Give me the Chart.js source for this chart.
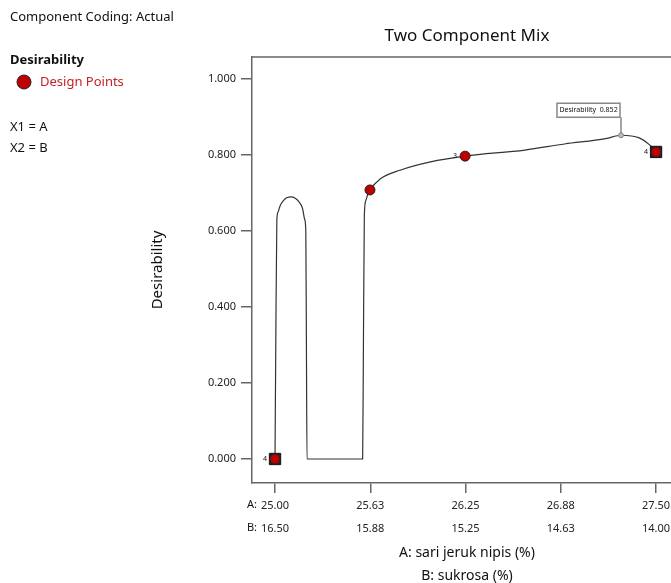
<!DOCTYPE html>
<html>
<head>
<meta charset="utf-8">
<script src="https://cdn.jsdelivr.net/npm/chart.js@4.4.0/dist/chart.umd.min.js"></script>
<style>
  html, body { margin: 0; padding: 0; background: #fff; overflow: hidden; }
  #wrap { width: 671px; height: 583px; }
  canvas { display: block; }
</style>
</head>
<body>
<div id="wrap"><canvas id="chart" width="671" height="583"></canvas></div>
<script>
// Desirability curve along the mix (A: sari jeruk nipis)
const curveA = [25.000, 25.005, 25.012, 25.020, 25.033, 25.055, 25.080, 25.105, 25.130, 25.155,
                25.180, 25.195, 25.202, 25.206, 25.210, 25.575, 25.580, 25.586, 25.596, 25.610,
                25.623, 25.690, 25.820, 26.020, 26.247, 26.640, 26.900, 27.170, 27.270, 27.390,
                27.460, 27.500];
const curveD = [0.000, 0.300, 0.630, 0.650, 0.666, 0.680, 0.688, 0.690, 0.687, 0.678,
                0.660, 0.630, 0.600, 0.300, 0.000, 0.000, 0.300, 0.640, 0.680, 0.698,
                0.708, 0.737, 0.760, 0.782, 0.797, 0.813, 0.829, 0.843, 0.852, 0.845,
                0.826, 0.808];

// Design points
const designA = [25.000, 25.623, 26.247, 27.500];
const designD = [0.000, 0.708, 0.797, 0.808];
const designReps = ['4', '', '3', '4'];
const squareA = [25.000, 27.500];
const squareD = [0.000, 0.808];

// Optimum flag
const peakA = 27.27;
const peakD = 0.852;

// Axis ticks
const xTicks = [25.000, 25.625, 26.250, 26.875, 27.500];
const xLabelsA = ['25.00', '25.63', '26.25', '26.88', '27.50'];
const xLabelsB = ['16.50', '15.88', '15.25', '14.63', '14.00'];
const yTicks = [0, 0.2, 0.4, 0.6, 0.8, 1.0];

const FONT = "'Noto Sans', 'Open Sans', sans-serif";
const RED = '#c00000';

const toPoints = (xs, ys) => xs.map((x, i) => ({ x: x, y: ys[i] }));

const extras = {
    id: 'extras',
    afterDraw(chart) {
        const ctx = chart.ctx;
        const area = chart.chartArea;
        const xs = chart.scales.x;
        ctx.save();

        // top frame line
        ctx.strokeStyle = '#666';
        ctx.lineWidth = 1.5;
        ctx.beginPath();
        ctx.moveTo(area.left, area.top);
        ctx.lineTo(area.right + 2, area.top);
        ctx.stroke();

        ctx.fillStyle = '#111';
        ctx.textBaseline = 'middle';

        // side legend
        ctx.textAlign = 'left';
        ctx.font = '13px ' + FONT;
        ctx.fillText('Component Coding: Actual', 10, 17);
        ctx.font = 'bold 13px ' + FONT;
        ctx.fillText('Desirability', 10, 60);
        ctx.beginPath();
        ctx.arc(24, 82, 7, 0, Math.PI * 2);
        ctx.fillStyle = RED;
        ctx.fill();
        ctx.strokeStyle = '#222';
        ctx.lineWidth = 1;
        ctx.stroke();
        ctx.fillStyle = '#c4202a';
        ctx.font = '13px ' + FONT;
        ctx.fillText('Design Points', 40, 82);
        ctx.fillStyle = '#111';
        ctx.fillText('X1 = A', 10, 127);
        ctx.fillText('X2 = B', 10, 148);

        // title
        ctx.textAlign = 'center';
        ctx.font = '17px ' + FONT;
        ctx.fillText('Two Component Mix', 467, 36);

        // x axis titles
        ctx.font = '14px ' + FONT;
        ctx.fillText('A: sari jeruk nipis (%)', 467, 553);
        ctx.fillText('B: sukrosa (%)', 467, 576);

        // row prefixes for tick labels
        ctx.font = '11px ' + FONT;
        ctx.textAlign = 'right';
        ctx.fillText('A:', xs.getPixelForValue(xTicks[0]) - 18, 505);
        ctx.fillText('B:', xs.getPixelForValue(xTicks[0]) - 18, 528);

        // y axis title
        ctx.save();
        ctx.translate(158, 270);
        ctx.rotate(-Math.PI / 2);
        ctx.textAlign = 'center';
        ctx.font = '15px ' + FONT;
        ctx.fillText('Desirability', 0, 0);
        ctx.restore();

        // replicate counts next to design points
        const dMeta = chart.getDatasetMeta(1);
        ctx.font = '7px ' + FONT;
        ctx.textAlign = 'right';
        dMeta.data.forEach((pt, i) => {
            if (designReps[i]) ctx.fillText(designReps[i], pt.x - 8, pt.y);
        });

        // optimum flag
        const p = chart.getDatasetMeta(3).data[0];
        ctx.strokeStyle = '#888';
        ctx.lineWidth = 1.5;
        ctx.beginPath();
        ctx.moveTo(p.x, p.y - 2);
        ctx.lineTo(p.x, p.y - 18);
        ctx.stroke();
        ctx.fillStyle = '#fff';
        ctx.fillRect(p.x - 64, p.y - 32, 63, 14);
        ctx.strokeRect(p.x - 64, p.y - 32, 63, 14);
        ctx.fillStyle = '#111';
        ctx.textAlign = 'center';
        ctx.font = '7px ' + FONT;
        ctx.fillText('Desirability  ' + peakD.toFixed(3), p.x - 32.5, p.y - 25);

        ctx.restore();
    }
};

new Chart(document.getElementById('chart'), {
    type: 'scatter',
    data: {
        datasets: [
            {
                type: 'line',
                data: toPoints(curveA, curveD),
                borderColor: '#333',
                borderWidth: 1.2,
                pointRadius: 0,
                cubicInterpolationMode: 'monotone',
                fill: false,
                order: 3
            },
            {
                data: toPoints(designA, designD),
                pointStyle: 'circle',
                pointRadius: 5,
                backgroundColor: RED,
                borderColor: '#222',
                borderWidth: 1,
                order: 0
            },
            {
                data: toPoints(squareA, squareD),
                pointStyle: 'rect',
                pointRadius: 8,
                backgroundColor: '#222',
                borderColor: '#111',
                borderWidth: 1,
                order: 1
            },
            {
                data: [{ x: peakA, y: peakD }],
                pointStyle: 'circle',
                pointRadius: 2.5,
                backgroundColor: '#bbb',
                borderColor: '#888',
                borderWidth: 1,
                order: 0
            }
        ]
    },
    options: {
        responsive: false,
        animation: false,
        devicePixelRatio: 1,
        layout: { autoPadding: false, padding: { top: 57, right: 0, left: 0, bottom: 0 } },
        plugins: {
            legend: { display: false },
            tooltip: { enabled: false },
            title: { display: false }
        },
        scales: {
            x: {
                type: 'linear',
                min: 24.849,
                max: 27.598,
                afterBuildTicks: s => { s.ticks = xTicks.map(v => ({ value: v })); },
                afterFit: s => { s.height = 100; s.paddingLeft = 0; s.paddingRight = 0; },
                ticks: {
                    autoSkip: false,
                    maxRotation: 0,
                    padding: 1,
                    color: '#222',
                    font: { family: FONT, size: 11, lineHeight: 2.1 },
                    callback: (v, i) => [xLabelsA[i], xLabelsB[i]]
                },
                grid: { drawOnChartArea: false, drawTicks: true, tickLength: 10, color: '#666', lineWidth: 1.5 },
                border: { color: '#666', width: 1.5 }
            },
            y: {
                type: 'linear',
                min: -0.0632,
                max: 1.0579,
                afterBuildTicks: s => { s.ticks = yTicks.map(v => ({ value: v })); },
                afterFit: s => { s.width = 252; s.paddingTop = 0; s.paddingBottom = 0; },
                ticks: {
                    padding: 5,
                    color: '#222',
                    font: { family: FONT, size: 11 },
                    callback: v => v.toFixed(3)
                },
                grid: { drawOnChartArea: false, drawTicks: true, tickLength: 11, color: '#666', lineWidth: 1.5 },
                border: { color: '#666', width: 1.5 }
            }
        }
    },
    plugins: [extras]
});
</script>
</body>
</html>
